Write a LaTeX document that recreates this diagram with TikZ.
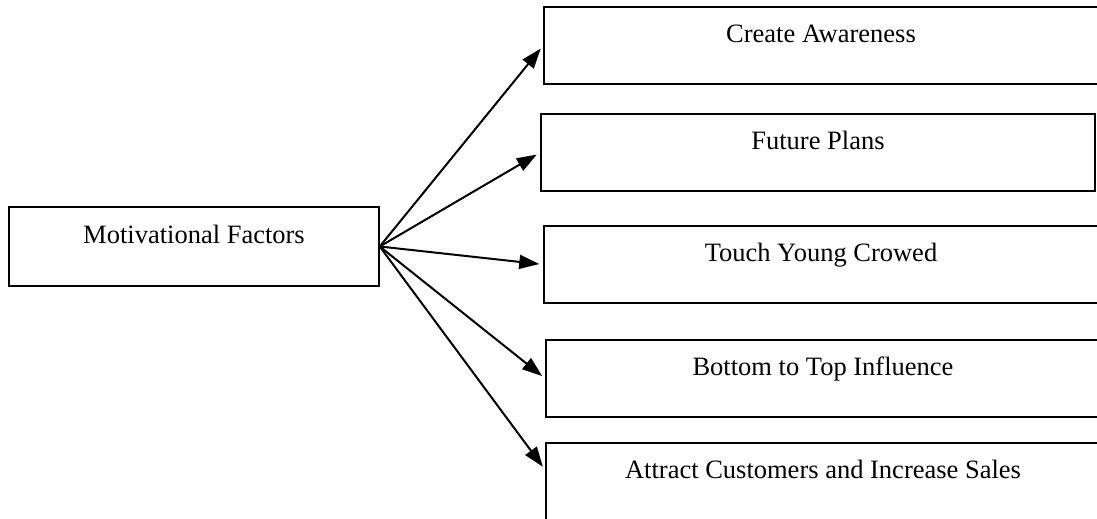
\documentclass[tikz,border=0pt]{standalone}
\usepackage{fontspec}
\setmainfont{Liberation Serif}
\usetikzlibrary{arrows.meta, positioning}

\begin{document}
\begin{tikzpicture}[
    x=0.5pt, y=-0.5pt,
    every node/.style={draw, line width=0.75pt, inner sep=0pt, text height=10pt, text depth=13pt, font=\fontsize{13.25}{16}\selectfont},
    goal/.style={minimum width=277pt, minimum height=38.5pt},
    >={Triangle[length=10pt, width=7pt]} % Arrow style
]
\useasboundingbox (0,0) rectangle (1097,519);

% Nodes
\node[minimum width=185pt, minimum height=39.5pt] (MF) at (194,246.5) {Motivational Factors};
\node[goal] (CA) at (821,45.5) {Create Awareness};
\node[goal, below=14.25pt of CA.south, anchor=north, xshift=-1.5pt] (FP) {Future Plans};
\node[goal, below=16.75pt of FP.south, anchor=north, xshift=1.5pt] (TY) {Touch Young Crowed};
\node[goal, below=17.75pt of TY.south, anchor=north, xshift=1pt] (BT) {Bottom to Top Influence};
\node[goal, below=12.25pt of BT.south, anchor=north] (AC) {Attract Customers and Increase Sales};

% Arrows
\draw[->, line width=1pt, shorten >=2pt] (MF.east) -- (CA.west);
\draw[->, line width=1pt, shorten >=2pt] (MF.east) -- (FP.west);
\draw[->, line width=1pt, shorten >=2pt] (MF.east) -- (TY.west);
\draw[->, line width=1pt, shorten >=2pt] (MF.east) -- (BT.west);
\draw[->, line width=1pt, shorten >=2pt] (MF.east) -- ([yshift=5.75pt]AC.west);

\end{tikzpicture}
\end{document}
